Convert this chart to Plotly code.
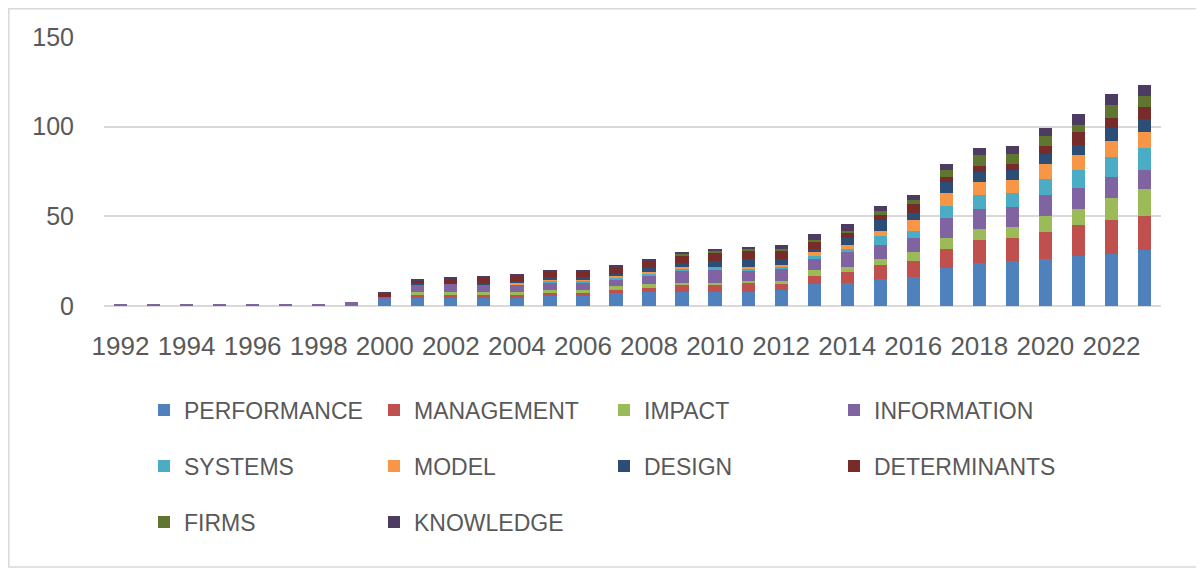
import plotly.graph_objects as go

years = list(range(1992, 2024))

performance  = [0,0,0,0,0,0,0,1,4,5,5,5,5,6,6,7,8,8,8,8,9,12,13,15,16,21,24,25,26,28,29,31]
management   = [0,0,0,0,0,0,0,0,0,1,1,1,1,1,1,2,2,4,4,5,3,5,6,8,9,11,13,13,15,17,19,19]
impact       = [0,0,0,0,0,0,0,0,0,2,2,2,2,2,2,2,2,1,1,1,2,3,3,3,5,6,6,6,9,9,12,15]
information  = [1,1,1,1,1,1,1,1,1,4,4,4,4,4,4,4,5,7,7,6,7,6,8,8,8,11,11,11,12,12,12,11]
systems      = [0,0,0,0,0,0,0,0,0,0,0,0,0,1,1,1,1,1,2,1,1,2,2,5,4,7,8,8,9,10,11,12]
model        = [0,0,0,0,0,0,0,0,0,0,0,0,1,1,1,1,1,1,0,1,1,2,2,3,6,7,7,7,8,8,9,9]
design       = [0,0,0,0,0,0,0,0,0,1,0,1,1,1,1,1,2,2,3,4,3,2,4,6,4,6,6,6,6,6,7,7]
determinants = [0,0,0,0,0,0,0,0,2,1,3,3,3,3,3,4,4,4,5,5,5,4,3,3,5,3,3,3,4,7,6,7]
firms        = [0,0,0,0,0,0,0,0,0,0,0,0,0,0,0,0,0,1,1,1,1,1,1,2,2,4,6,6,6,4,7,6]
knowledge    = [0,0,0,0,0,0,0,0,1,1,1,1,1,1,1,1,1,1,1,1,2,3,4,3,3,3,4,4,4,6,6,6]

series = [
    ("PERFORMANCE", performance, "#4F81BD", "legend"),
    ("MANAGEMENT", management, "#C0504D", "legend"),
    ("IMPACT", impact, "#9BBB59", "legend"),
    ("INFORMATION", information, "#8064A2", "legend"),
    ("SYSTEMS", systems, "#4BACC6", "legend2"),
    ("MODEL", model, "#F79646", "legend2"),
    ("DESIGN", design, "#2C4D75", "legend2"),
    ("DETERMINANTS", determinants, "#772C2A", "legend2"),
    ("FIRMS", firms, "#5F7530", "legend3"),
    ("KNOWLEDGE", knowledge, "#4D3B62", "legend3"),
]

tick_years = list(range(1992, 2023, 2))

fig = go.Figure()
for name, vals, color, leg in series:
    fig.add_trace(go.Bar(
        x=years, y=vals, name=name, legend=leg,
        marker=dict(color=color, line=dict(width=0)),
    ))

OFF = 8  # page body margin
W, H = 1204 - OFF, 569 - OFF
# plot area in page pixels: x 104..1161, y 37..306
L = 104 - OFF
T = 37 - OFF
R = W - (1161 - OFF)
B = H - (306 - OFF)
pw = W - L - R
ph = H - T - B

def py(page_y):
    return (T + ph - (page_y - OFF)) / ph

def px(page_x):
    return ((page_x - OFF) - L) / pw

text_color = "#595959"
font_family = "Liberation Sans, Arial, sans-serif"

legend_common = dict(
    orientation="h", xanchor="left", yanchor="middle",
    x=px(144), entrywidth=185, entrywidthmode="pixels",
    font=dict(size=23, color=text_color, family=font_family),
    bgcolor="rgba(0,0,0,0)", traceorder="normal",
)

fig.update_layout(
    width=W, height=H,
    margin=dict(l=L, r=R, t=T, b=B, autoexpand=False),
    barmode="stack", bargap=0.6,
    plot_bgcolor="white", paper_bgcolor="white",
    font=dict(family=font_family, color=text_color),
    xaxis=dict(
        range=[1991.5, 2023.5], tickmode="array", tickvals=tick_years,
        ticktext=[str(y) for y in tick_years],
        showgrid=False, showline=False, zeroline=False, ticks="",
        tickfont=dict(size=26, color=text_color), ticklabelstandoff=22,
    ),
    yaxis=dict(
        range=[0, 150], tickvals=[0, 50, 100, 150],
        showgrid=True, gridcolor="#D9D9D9", gridwidth=1.5,
        zeroline=True, zerolinecolor="#D9D9D9", zerolinewidth=1.5,
        showline=False, ticks="",
        tickfont=dict(size=25, color=text_color), ticklabelstandoff=29,
    ),
    legend=dict(legend_common, y=py(410)),
    legend2=dict(legend_common, y=py(466)),
    legend3=dict(legend_common, y=py(522)),
    shapes=[dict(
        type="rect", xref="paper", yref="paper",
        x0=px(8.8), x1=px(1215), y0=py(567), y1=py(8.8),
        line=dict(color="#D9D9D9", width=1.5), fillcolor="rgba(0,0,0,0)", layer="below",
    )],
    showlegend=True,
)

fig.write_html("out.html")
